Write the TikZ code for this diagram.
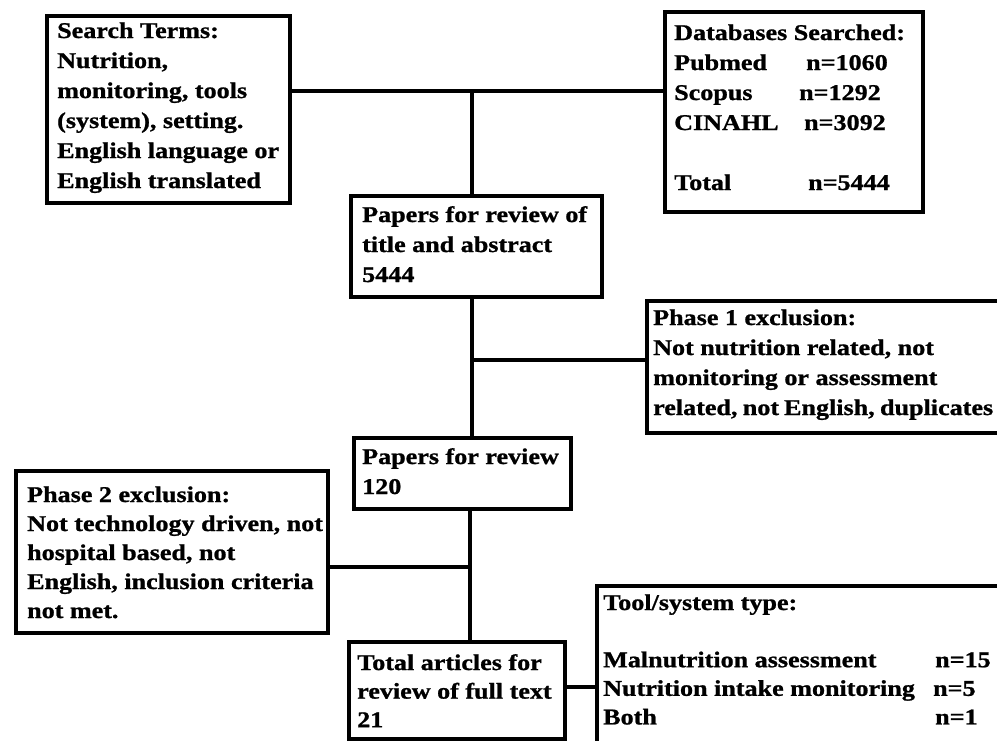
\documentclass[tikz,border=0pt]{standalone}
\usepackage{fontspec}
\setmainfont{Liberation Serif}[FakeStretch=1.16, BoldFeatures={FakeBold=1}]
\begin{document}
\begin{tikzpicture}[x=1pt,y=-1pt,
  box/.style={draw, line width=3.8pt, rectangle, inner sep=0pt, anchor=north west},
  txt/.style={anchor=base west, inner sep=0pt, font=\fontsize{22.5}{30}\selectfont\bfseries},
  tight/.style={font=\fontsize{22.5}{28.6}\selectfont\bfseries},
  link/.style={line width=3.8pt}]
\useasboundingbox (0,0) rectangle (997,740);
\clip (0,0) rectangle (997,740);

% frames
\node[box, minimum width=243pt, minimum height=187pt] (search) at (45,14) {};
\node[box, minimum width=258pt, minimum height=200pt] (db) at (663,10) {};
\node[box, minimum width=251pt, minimum height=101pt] (papers) at (349,194) {};
\node[box, minimum width=380pt, minimum height=132pt] (phase1) at (645,299) {};
\node[box, minimum width=217pt, minimum height=71pt] (p120) at (352,436) {};
\node[box, minimum width=312pt, minimum height=162pt] (phase2) at (14,469) {};
\node[box, minimum width=216pt, minimum height=97pt] (total) at (347,640) {};
\node[box, minimum width=420pt, minimum height=180pt] (tool) at (595,584) {};

% texts
\node[txt] (searchtext) at (57,38) {\parbox[t]{240pt}{Search Terms:\\Nutrition,\\monitoring, tools\\(system), setting.\\English language or\\English translated}};
\node[txt] (dbtext) at (674,40) {\parbox[t]{250pt}{Databases Searched:\\
  \makebox[132pt][l]{Pubmed}n=1060\\
  \makebox[125pt][l]{Scopus}n=1292\\
  \makebox[130pt][l]{CINAHL}n=3092\\
  \mbox{}\\
  \makebox[134pt][l]{Total}n=5444}};
\node[txt] (paperstext) at (362,222) {\parbox[t]{240pt}{Papers for review of\\title and abstract\\5444}};
\node[txt] (phase1text) at (653,325) {\parbox[t]{340pt}{Phase 1 exclusion:\\Not nutrition related, not\\monitoring or assessment\\related, not English, duplicates}};
\node[txt] (p120text) at (362,464) {\parbox[t]{210pt}{Papers for review\\120}};
\node[txt, font=\fontsize{22.5}{29}\selectfont\bfseries] (phase2text) at (27,502) {\parbox[t]{300pt}{Phase 2 exclusion:\\Not technology driven, not\\hospital based, not\\English, inclusion criteria\\not met.}};
\node[txt, tight] (totaltext) at (357,670) {\parbox[t]{210pt}{Total articles for\\review of full text\\21}};
\node[txt, tight] (tooltext) at (603,610) {\parbox[t]{400pt}{Tool/system type:\\
  \mbox{}\\
  \makebox[332pt][l]{Malnutrition assessment}n=15\\
  \makebox[330pt][l]{Nutrition intake monitoring}n=5\\
  \makebox[332pt][l]{Both}n=1}};

% connectors
\coordinate (j1) at (472,91);
\draw[link] (search.east |- j1) -- (db.west |- j1);
\draw[link] (j1) -- (j1 |- papers.north);
\coordinate (j2) at (472,360);
\draw[link] (j2 |- papers.south) -- (j2 |- p120.north);
\draw[link] (j2) -- (phase1.west |- j2);
\coordinate (j3) at (470,567);
\draw[link] (j3 |- p120.south) -- (j3 |- total.north);
\draw[link] (phase2.east |- j3) -- (j3);
\coordinate (j4) at (0,687);
\draw[link] (total.east |- j4) -- (tool.west |- j4);
\end{tikzpicture}
\end{document}
